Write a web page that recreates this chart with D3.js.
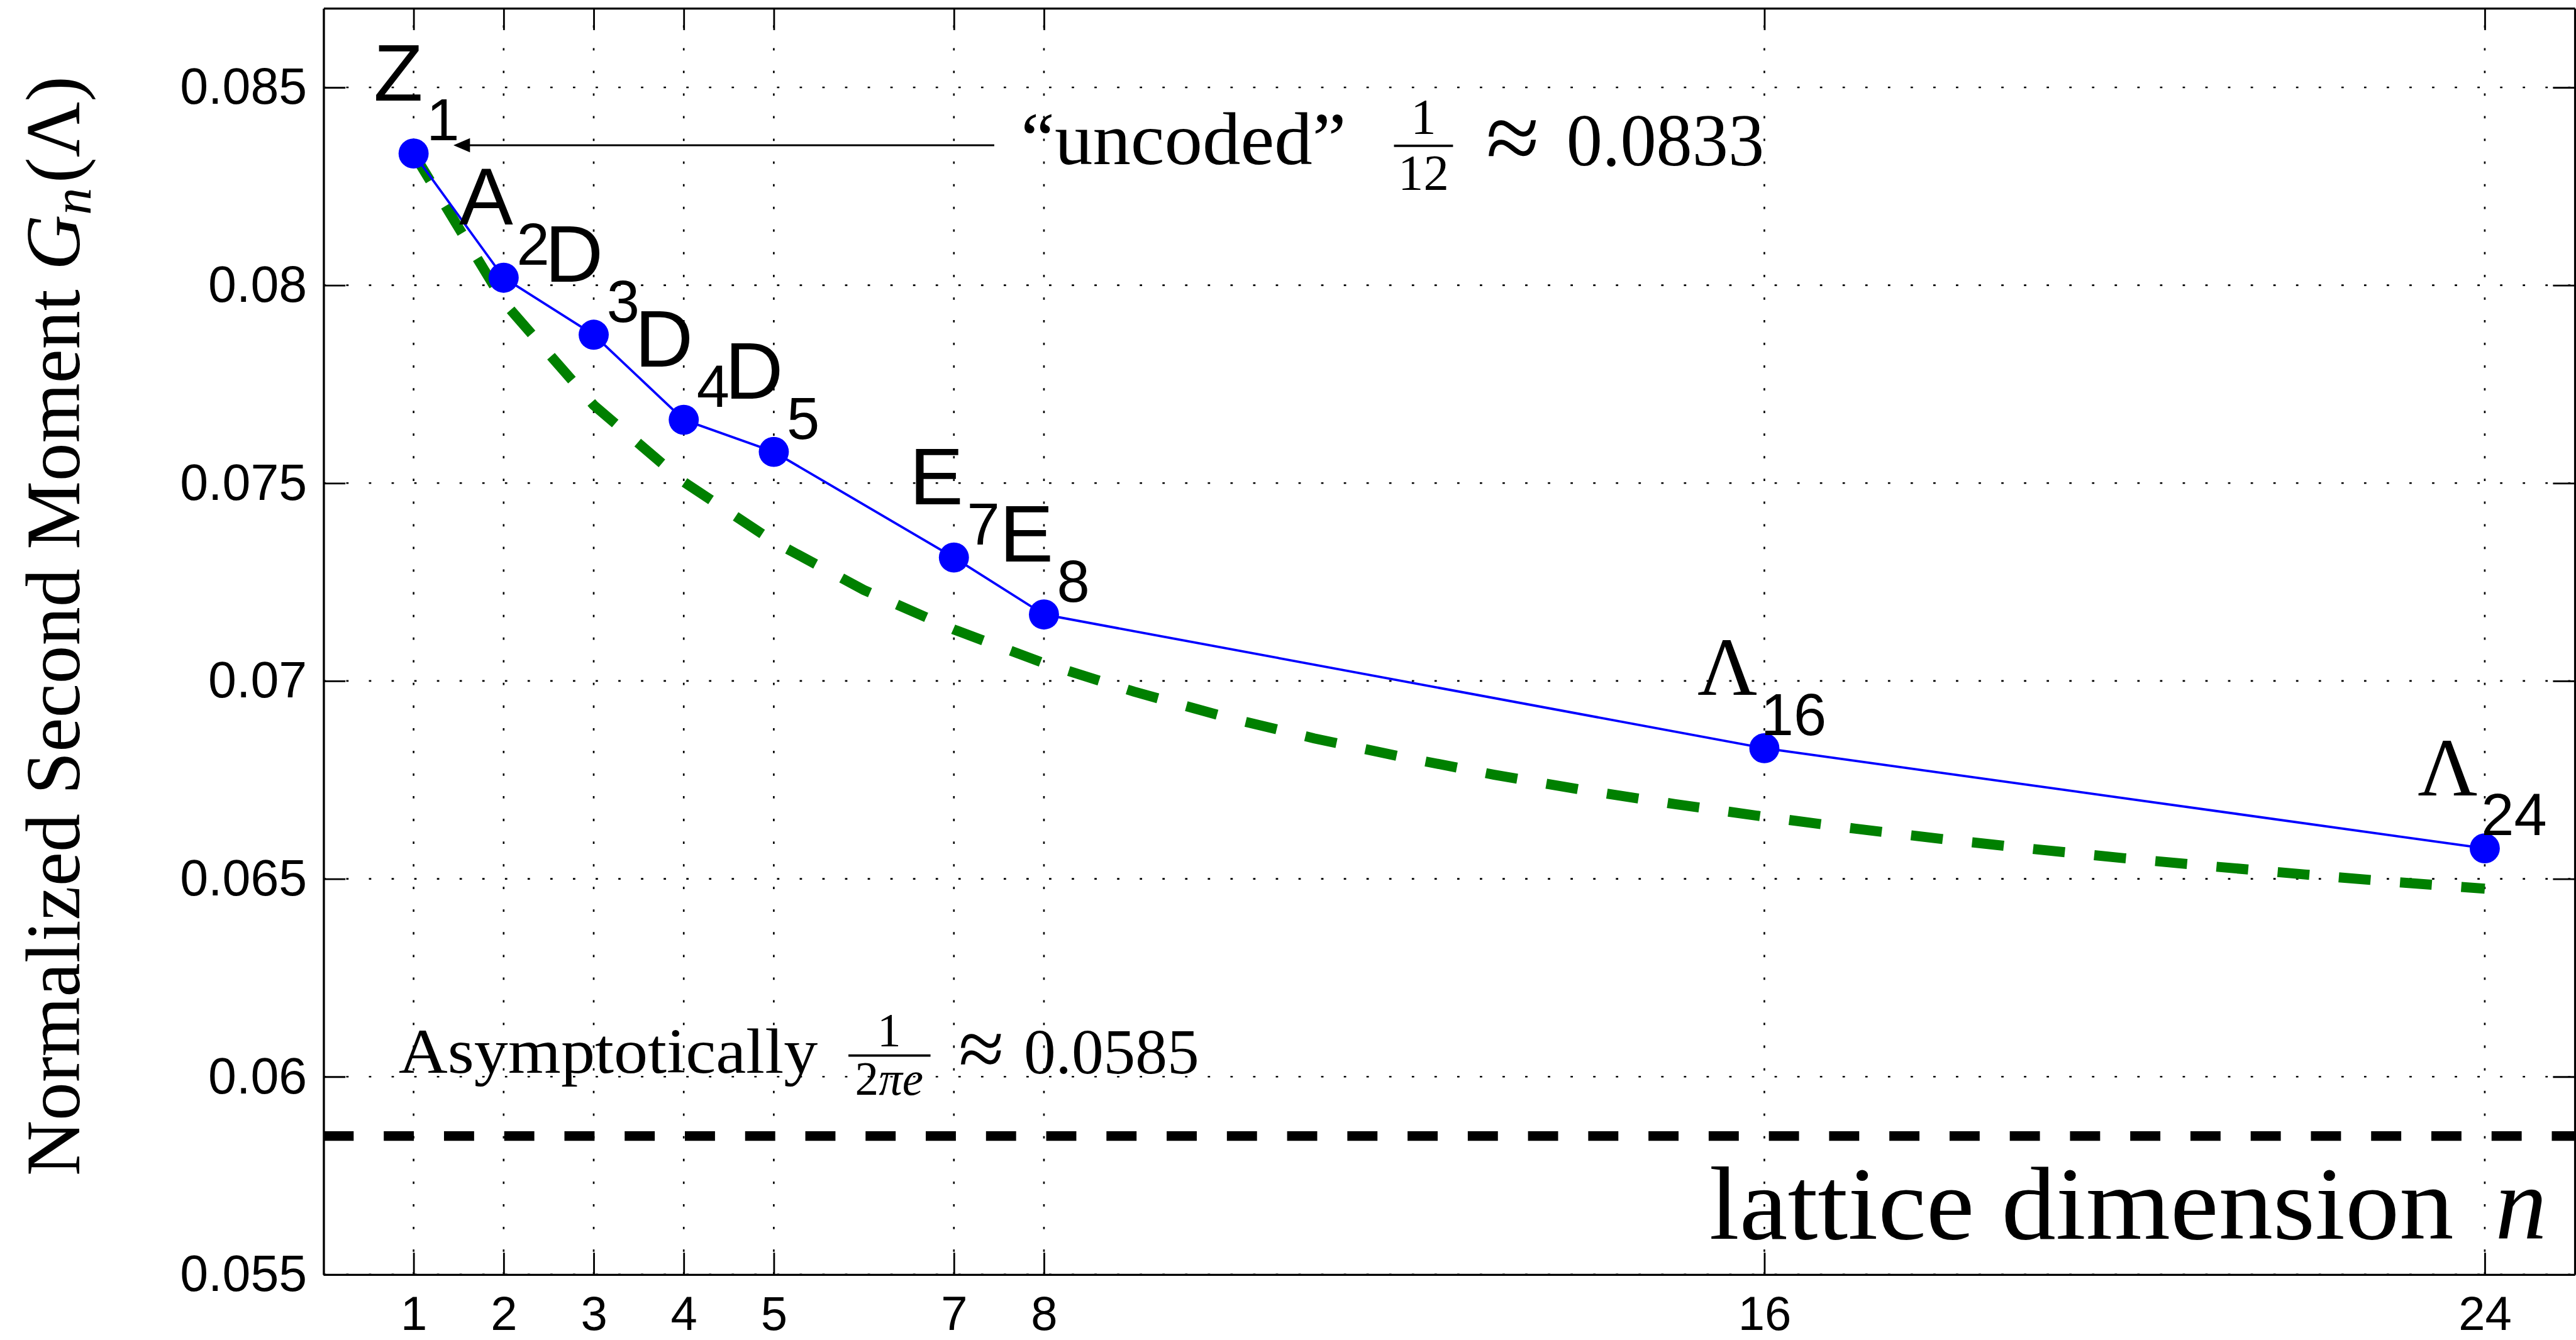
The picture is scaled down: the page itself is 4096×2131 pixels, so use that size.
<!DOCTYPE html>
<html><head><meta charset="utf-8">
<script src="https://cdn.jsdelivr.net/npm/d3@7"></script>
<style>html,body{margin:0;padding:0;background:#fff;overflow:hidden}</style>
</head><body><svg id="chart"></svg>
<script>
// ---------- data ----------
const dims = [1, 2, 3, 4, 5, 7, 8, 16, 24];
const latticeNames = ["Z", "A", "D", "D", "D", "E", "E", "Λ", "Λ"];
const latticeSubs = ["1", "2", "3", "4", "5", "7", "8", "16", "24"];
const secondMoment = [0.08333, 0.08019, 0.07875, 0.07660, 0.07579, 0.07312, 0.07168, 0.06830, 0.06577];
const sphereDims = [1, 2, 3, 4, 5, 6, 7, 8, 9, 10, 11, 12, 13, 14, 15, 16, 17, 18, 19, 20, 21, 22, 23, 24];
const sphereBound = [0.08333, 0.07958, 0.07697, 0.07503, 0.07352, 0.07230, 0.07130, 0.07045, 0.06973, 0.06910, 0.06855, 0.06807,
                     0.06763, 0.06724, 0.06689, 0.06657, 0.06627, 0.06600, 0.06575, 0.06552, 0.06531, 0.06511, 0.06492, 0.06475];
const asymptoteValue = 0.0585;
const xTickValues = [1, 2, 3, 4, 5, 7, 8, 16, 24];
const yTickValues = [0.055, 0.06, 0.065, 0.07, 0.075, 0.08, 0.085];
const yTickLabels = ["0.055", "0.06", "0.065", "0.07", "0.075", "0.08", "0.085"];

// ---------- layout ----------
const W = 4096, H = 2131, S = W / 4363;
const P = v => v * S;
const fontSans = "'Liberation Sans', Arial, Helvetica, sans-serif";
const fontSerif = "'Liberation Serif', 'Times New Roman', serif";

const svg = d3.select("#chart").attr("width", W).attr("height", H).attr("viewBox", `0 0 ${W} ${H}`);
svg.append("rect").attr("width", W).attr("height", H).attr("fill", "#fff");

const x = d3.scaleLinear().domain([0, 25]).range([P(548), P(4361)]);
const y = d3.scaleLinear().domain([0.055, 0.087]).range([P(2159), P(14)]);
const [x0, x1] = x.range();
const [yb, yt] = y.range();

// grid (dotted)
const grid = svg.append("g").attr("stroke", "#000").attr("stroke-width", P(2.8))
  .attr("stroke-dasharray", `${P(4)},${P(34.4)}`);
grid.selectAll("line.gx").data(xTickValues).join("line").attr("class", "gx")
  .attr("x1", d => x(d)).attr("x2", d => x(d)).attr("y1", yb).attr("y2", yt);
grid.selectAll("line.gy").data(yTickValues).join("line").attr("class", "gy")
  .attr("y1", d => y(d)).attr("y2", d => y(d)).attr("x1", x0).attr("x2", x1);

// asymptote
svg.append("line").attr("x1", x0).attr("x2", x1)
  .attr("y1", y(asymptoteValue)).attr("y2", y(asymptoteValue))
  .attr("stroke", "#000").attr("stroke-width", P(16)).attr("stroke-dasharray", `${P(51)},${P(51)}`);

// sphere bound (green dashed)
svg.append("path").datum(sphereDims.map((d, i) => [d, sphereBound[i]]))
  .attr("d", d3.line().x(d => x(d[0])).y(d => y(d[1])))
  .attr("fill", "none").attr("stroke", "#008000").attr("stroke-width", P(17))
  .attr("stroke-dasharray", `${P(54)},${P(50)}`);

// lattice line + markers
const pts = dims.map((d, i) => ({ n: d, g: secondMoment[i], name: latticeNames[i], sub: latticeSubs[i] }));
svg.append("path").datum(pts)
  .attr("d", d3.line().x(d => x(d.n)).y(d => y(d.g)))
  .attr("fill", "none").attr("stroke", "#0000ff").attr("stroke-width", P(4));
svg.append("g").selectAll("circle").data(pts).join("circle")
  .attr("cx", d => x(d.n)).attr("cy", d => y(d.g)).attr("r", P(25.5)).attr("fill", "#0000ff");

// axes
function styleAxis(g) {
  g.select(".domain").attr("stroke", "#000").attr("stroke-width", P(3.6));
  g.selectAll(".tick line").attr("stroke", "#000").attr("stroke-width", P(3));
  g.selectAll(".tick text").attr("font-family", fontSans).attr("font-size", P(86)).attr("fill", "#000");
}
const axB = svg.append("g").attr("transform", `translate(0,${yb})`)
  .call(d3.axisBottom(x).tickValues(xTickValues).tickFormat(d3.format("d"))
    .tickSizeInner(-P(37)).tickSizeOuter(0).tickPadding(P(36))).call(styleAxis);
axB.selectAll(".tick text").attr("font-size", P(81));
svg.append("g").attr("transform", `translate(0,${yt})`)
  .call(d3.axisTop(x).tickValues(xTickValues).tickFormat("")
    .tickSizeInner(-P(37)).tickSizeOuter(0)).call(styleAxis);
svg.append("g").attr("transform", `translate(${x0},0)`)
  .call(d3.axisLeft(y).tickValues(yTickValues).tickFormat((d, i) => yTickLabels[i])
    .tickSizeInner(-P(37)).tickSizeOuter(0).tickPadding(P(28))).call(styleAxis);
svg.append("g").attr("transform", `translate(${x1},0)`)
  .call(d3.axisRight(y).tickValues(yTickValues).tickFormat("")
    .tickSizeInner(-P(37)).tickSizeOuter(0)).call(styleAxis);

// point labels
const lab = svg.append("g").attr("fill", "#000");
const lg = lab.selectAll("g").data(pts).join("g");
const dxMain = d => d.name === "Λ" ? P(-12) : P(16);
lg.append("text")
  .attr("x", d => x(d.n) + dxMain(d)).attr("y", d => y(d.g) - P(90))
  .attr("text-anchor", "end")
  .attr("font-family", d => d.name === "Λ" ? fontSerif : fontSans)
  .attr("font-size", d => d.name === "Λ" ? P(140) : P(137))
  .text(d => d.name);
lg.append("text")
  .attr("x", d => x(d.n) + dxMain(d) + P(6)).attr("y", d => y(d.g) - P(22))
  .attr("font-family", fontSans).attr("font-size", P(100))
  .text(d => d.sub);

// "uncoded" annotation
const ann = svg.append("g").attr("fill", "#000");
ann.append("line").attr("x1", P(1684)).attr("x2", P(790)).attr("y1", P(246)).attr("y2", P(246))
  .attr("stroke", "#000").attr("stroke-width", P(3.2));
ann.append("path").attr("d", `M${P(768)},${P(246)} L${P(796)},${P(234)} L${P(796)},${P(258)} Z`);
ann.append("text").attr("x", P(1729)).attr("y", P(278)).attr("font-family", fontSerif)
  .attr("font-size", P(127)).attr("textLength", P(551)).attr("lengthAdjust", "spacingAndGlyphs")
  .text("\u201Cuncoded\u201D");
ann.append("line").attr("x1", P(2361)).attr("x2", P(2461)).attr("y1", P(247)).attr("y2", P(247))
  .attr("stroke", "#000").attr("stroke-width", P(4));
ann.append("text").attr("x", P(2411)).attr("y", P(227)).attr("text-anchor", "middle")
  .attr("font-family", fontSerif).attr("font-size", P(86)).text("1");
ann.append("text").attr("x", P(2411)).attr("y", P(322)).attr("text-anchor", "middle")
  .attr("font-family", fontSerif).attr("font-size", P(86)).text("12");
ann.append("text").attr("x", P(2562)).attr("y", P(289)).attr("text-anchor", "middle")
  .attr("font-family", fontSerif).attr("font-size", P(165)).text("\u2248");
ann.append("text").attr("x", P(2653)).attr("y", P(280)).attr("font-family", fontSerif)
  .attr("font-size", P(127)).attr("textLength", P(335)).attr("lengthAdjust", "spacingAndGlyphs")
  .text("0.0833");

// asymptote annotation
ann.append("text").attr("x", P(675)).attr("y", P(1817)).attr("font-family", fontSerif)
  .attr("font-size", P(108)).attr("textLength", P(710)).attr("lengthAdjust", "spacingAndGlyphs")
  .text("Asymptotically");
ann.append("line").attr("x1", P(1437)).attr("x2", P(1576)).attr("y1", P(1788)).attr("y2", P(1788))
  .attr("stroke", "#000").attr("stroke-width", P(4));
ann.append("text").attr("x", P(1506)).attr("y", P(1772)).attr("text-anchor", "middle")
  .attr("font-family", fontSerif).attr("font-size", P(80)).text("1");
const den = ann.append("text").attr("x", P(1506)).attr("y", P(1854)).attr("text-anchor", "middle")
  .attr("font-family", fontSerif).attr("font-size", P(80));
den.append("tspan").text("2");
den.append("tspan").attr("font-style", "italic").text("\u03C0e");
ann.append("text").attr("x", P(1662)).attr("y", P(1824)).attr("text-anchor", "middle")
  .attr("font-family", fontSerif).attr("font-size", P(140)).text("\u2248");
ann.append("text").attr("x", P(1734)).attr("y", P(1818)).attr("font-family", fontSerif)
  .attr("font-size", P(108)).attr("textLength", P(297)).attr("lengthAdjust", "spacingAndGlyphs")
  .text("0.0585");

// x axis label
ann.append("text").attr("x", P(2895)).attr("y", P(2098)).attr("font-family", fontSerif)
  .attr("font-size", P(175)).attr("textLength", P(1261)).attr("lengthAdjust", "spacingAndGlyphs")
  .text("lattice dimension");
ann.append("text").attr("x", P(4226)).attr("y", P(2098)).attr("font-family", fontSerif)
  .attr("font-style", "italic").attr("font-size", P(175)).text("n");

// y axis label
const yl = svg.append("text").attr("transform", `translate(${P(134)},${P(1992)}) rotate(-90)`)
  .attr("font-family", fontSerif).attr("font-size", P(130)).attr("fill", "#000");
yl.append("tspan").text("Normalized Second Moment ");
yl.append("tspan").attr("font-style", "italic").text("G");
yl.append("tspan").attr("font-style", "italic").attr("font-size", P(92)).attr("dy", P(19)).text("n");
yl.append("tspan").attr("dy", -P(19)).attr("dx", P(8)).text("(\u039B)");
</script>
</body></html>
